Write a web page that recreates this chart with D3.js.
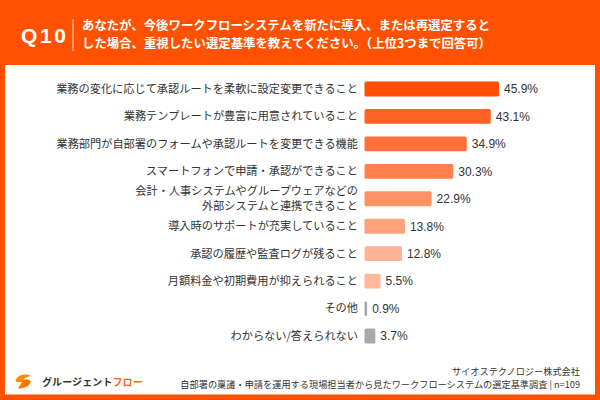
<!DOCTYPE html>
<html>
<head>
<meta charset="utf-8">
<script src="https://cdn.jsdelivr.net/npm/d3@7"></script>
<style>
  body { margin: 0; padding: 0; background: #fff; }
  svg { display: block; }
</style>
</head>
<body>
<div id="chart-area"></div>
<script>
// Data
var categories = [
    "業務の変化に応じて承認ルートを柔軟に設定変更できること",
    "業務テンプレートが豊富に用意されていること",
    "業務部門が自部署のフォームや承認ルートを変更できる機能",
    "スマートフォンで申請・承認ができること",
    "会計・人事システムやグループウェアなどの\n外部システムと連携できること",
    "導入時のサポートが充実していること",
    "承認の履歴や監査ログが残ること",
    "月額料金や初期費用が抑えられること",
    "その他",
    "わからない/答えられない"
];
var values = [45.9, 43.1, 34.9, 30.3, 22.9, 13.8, 12.8, 5.5, 0.9, 3.7];

var titleLines = [
    "あなたが、今後ワークフローシステムを新たに導入、または再選定すると",
    "した場合、重視したい選定基準を教えてください。（上位3つまで回答可）"
];
var sourceLines = [
    "サイオステクノロジー株式会社",
    "自部署の稟議・申請を運用する現場担当者から見たワークフローシステムの選定基準調査 | n=109"
];

// Styles
var orange = "#ff5100";
var barColors = ["#ff4e00", "#ff6222", "#ff7138", "#ff804c", "#ff9162",
                 "#ffa27c", "#ffb396", "#ffb899", "#a8a8a8", "#a8a8a8"];
var jp = "'Noto Sans CJK JP', 'Noto Sans', sans-serif";

var width = 600, height = 400;

var svg = d3.select("#chart-area")
    .append("svg")
        .attr("width", width)
        .attr("height", height);

// Frame
svg.append("rect")
    .attr("width", width).attr("height", height)
    .attr("fill", orange);
svg.append("rect")
    .attr("x", 5).attr("y", 65)
    .attr("width", 590).attr("height", 329.5)
    .attr("fill", "#fff");

// Header
svg.append("text")
    .attr("x", 21).attr("y", 43)
    .attr("font-family", "'Liberation Sans', Arial, sans-serif")
    .attr("font-weight", "bold")
    .attr("font-size", "21px")
    .attr("textLength", 45)
    .attr("fill", "#fff")
    .text("Q10");

svg.append("line")
    .attr("x1", 73).attr("x2", 73)
    .attr("y1", 19).attr("y2", 51)
    .attr("stroke", "#fff")
    .attr("stroke-opacity", 0.8)
    .attr("stroke-width", 1);

svg.selectAll(".title")
    .data(titleLines)
    .enter().append("text")
        .attr("class", "title")
        .attr("x", 82)
        .attr("y", function(d, i){ return 30 + i * 18; })
        .attr("font-family", jp)
        .attr("font-weight", "bold")
        .attr("font-size", "12.4px")
        .attr("fill", "#fff")
        .text(function(d){ return d; });

// Scales
var x = d3.scaleLinear()
    .domain([0, 50])
    .range([364.5, 511]);

var y = d3.scaleBand()
    .domain(categories)
    .range([75.3, 349.7])
    .paddingInner(0.46)
    .paddingOuter(0.23);

var color = d3.scaleOrdinal()
    .domain(categories)
    .range(barColors);

// Bars
var rows = svg.selectAll(".row")
    .data(categories)
    .enter().append("g")
        .attr("class", "row");

rows.append("rect")
    .attr("x", x(0))
    .attr("y", function(d){ return y(d); })
    .attr("width", function(d, i){ return x(values[i]) - x(0); })
    .attr("height", y.bandwidth())
    .attr("rx", 1.5)
    .attr("fill", function(d){ return color(d); });

// Category labels
rows.each(function(d){
    var lines = d.split("\n");
    var cy = y(d) + y.bandwidth() / 2;
    var t = d3.select(this).append("text")
        .attr("text-anchor", "end")
        .attr("font-family", jp)
        .attr("font-size", "11.2px")
        .attr("fill", "#333");
    lines.forEach(function(line, j){
        t.append("tspan")
            .attr("x", 358)
            .attr("y", cy + (j - (lines.length - 1) / 2) * 14.5)
            .attr("dy", "0.35em")
            .text(line);
    });
});

// Value labels
rows.append("text")
    .attr("x", function(d, i){ return x(values[i]) + 5; })
    .attr("y", function(d){ return y(d) + y.bandwidth() / 2; })
    .attr("dy", "0.36em")
    .attr("font-family", "'Liberation Sans', Arial, sans-serif")
    .attr("font-size", "12px")
    .attr("fill", "#333")
    .text(function(d, i){ return values[i].toFixed(1) + "%"; });

// Logo
var grad = svg.append("defs").append("linearGradient")
    .attr("id", "logoGrad")
    .attr("x1", "0").attr("y1", "0").attr("x2", "1").attr("y2", "1");
grad.append("stop").attr("offset", "0").attr("stop-color", "#ffa000");
grad.append("stop").attr("offset", "1").attr("stop-color", "#ff5a00");

svg.append("path")
    .attr("d", "M31,376 C27,373.5 19,374 16,379 C15,380.5 15.5,382 17.5,382 L22,382 L18,388.5 C24,388.5 30,386 30.5,382 C30.7,380.5 29.5,379.5 28,379.5 L23,379.5 C25,377.5 28,376.5 31,376 Z")
    .attr("fill", "url(#logoGrad)");

var logo = svg.append("text")
    .attr("x", 42).attr("y", 385.5)
    .attr("font-family", jp)
    .attr("font-weight", "bold")
    .attr("font-size", "10px")
    .attr("letter-spacing", "0.1px");
logo.append("tspan").attr("fill", "#333").text("グルージェント");
logo.append("tspan").attr("fill", "#ff6a1a").text("フロー");

// Source
svg.selectAll(".source")
    .data(sourceLines)
    .enter().append("text")
        .attr("class", "source")
        .attr("x", 580)
        .attr("y", function(d, i){ return 375 + i * 13; })
        .attr("text-anchor", "end")
        .attr("font-family", jp)
        .attr("font-size", "9.2px")
        .attr("fill", "#333")
        .text(function(d){ return d; });
</script>
</body>
</html>
